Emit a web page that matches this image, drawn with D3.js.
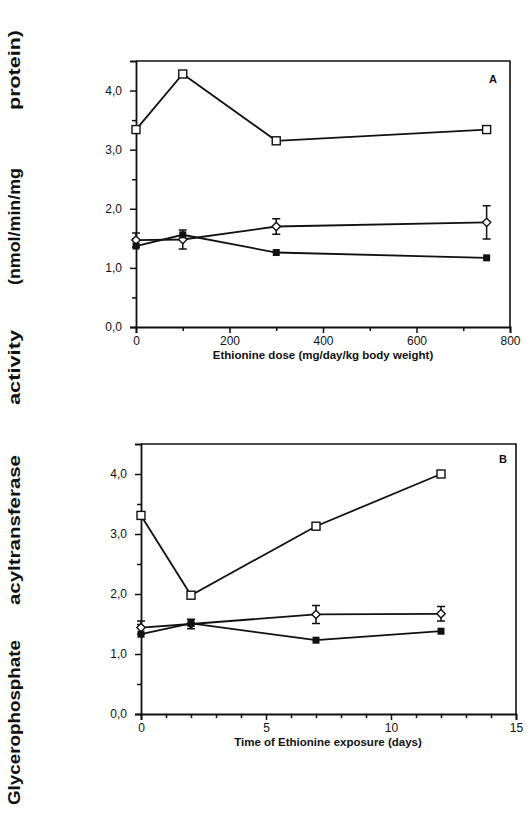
<!DOCTYPE html>
<html>
<head>
<meta charset="utf-8">
<script src="https://cdn.jsdelivr.net/npm/d3@7"></script>
<style>
  html, body { margin: 0; padding: 0; background: #fff; }
  svg { display: block; }
  text { font-family: "Liberation Sans", Arial, Helvetica, sans-serif; fill: #111; }
</style>
</head>
<body>
<svg id="chart" width="527" height="819"></svg>
<script>
// Panel A: ethionine dose (mg/day/kg body weight)
const doseA = [0, 100, 300, 750];
const openSquareA = [3.34, 4.28, 3.15, 3.34];
const filledSquareA = [1.37, 1.56, 1.26, 1.17];
const diamondA = [1.47, 1.48, 1.70, 1.77];
const diamondErrA = [0.12, 0.16, 0.13, 0.28];

// Panel B: time of ethionine exposure (days)
const daysB = [0, 2, 7, 12];
const openSquareB = [3.31, 1.98, 3.13, 4.00];
const filledSquareB = [1.33, 1.51, 1.23, 1.38];
const diamondB = [1.44, 1.50, 1.66, 1.67];
const diamondErrB = [0.11, 0.08, 0.15, 0.12];

const yTicks = [0, 1, 2, 3, 4];
const yMinor = [0.5, 1.5, 2.5, 3.5];
const xTicksA = [0, 200, 400, 600, 800];
const xMinorA = [100, 300, 500, 700];
const xTicksB = [0, 5, 10, 15];
const xMinorB = [1, 2, 3, 4, 6, 7, 8, 9, 11, 12, 13, 14];

const yTitleWords = ["Glycerophosphate", "acyltransferase", "activity", "(nmol/min/mg", "protein)"];

const svg = d3.select("#chart");
const fmtY = d => d3.format(".1f")(d).replace(".", ",");

function panel(opt) {
  const x = d3.scaleLinear().domain(opt.xDomain).range([opt.left, opt.right]);
  const y = d3.scaleLinear().domain([0, 4.5]).range([opt.bottom, opt.top]);
  const g = svg.append("g");

  // frame: top and right edges
  g.append("path")
    .attr("d", `M${opt.left},${opt.top}H${opt.right}V${opt.bottom}`)
    .attr("fill", "none").attr("stroke", "#111").attr("stroke-width", 1.6);

  // y axis
  g.append("g").attr("transform", `translate(${opt.left},0)`)
    .call(d3.axisLeft(y).tickValues(yTicks).tickFormat(fmtY).tickSize(6).tickPadding(8));
  g.append("g").attr("transform", `translate(${opt.left},0)`)
    .call(d3.axisLeft(y).tickValues(yMinor).tickFormat("").tickSize(4))
    .select(".domain").remove();

  // x axis
  g.append("g").attr("transform", `translate(0,${opt.bottom})`)
    .call(d3.axisBottom(x).tickValues(opt.xTicks).tickFormat(d3.format("d")).tickSize(6).tickPadding(3));
  g.append("g").attr("transform", `translate(0,${opt.bottom})`)
    .call(d3.axisBottom(x).tickValues(opt.xMinor).tickFormat("").tickSize(4))
    .select(".domain").remove();

  g.selectAll(".domain").attr("stroke", "#111").attr("stroke-width", 1.8);
  g.selectAll(".tick line").attr("stroke", "#111").attr("stroke-width", 1.5);
  g.selectAll(".tick text").attr("font-size", 12).attr("fill", "#111")
    .style("font-family", "'Liberation Sans', Arial, sans-serif");

  // x axis title
  g.append("text")
    .attr("x", opt.titleX).attr("y", opt.titleY)
    .attr("text-anchor", "middle")
    .attr("font-size", 11.5).attr("font-weight", "bold")
    .text(opt.title);

  // panel letter
  g.append("text")
    .attr("x", opt.letterX).attr("y", opt.letterY)
    .attr("font-size", 11).attr("font-weight", "bold")
    .text(opt.letter);

  const line = d3.line().x(d => x(d[0])).y(d => y(d[1]));
  const series = vals => opt.xs.map((v, i) => [v, vals[i]]);

  [opt.diamond, opt.filled, opt.open].forEach(vals => {
    g.append("path").datum(series(vals))
      .attr("d", line).attr("fill", "none")
      .attr("stroke", "#111").attr("stroke-width", 1.8);
  });

  // error bars on the diamond series
  opt.xs.forEach((v, i) => {
    const cx = x(v), lo = y(opt.diamond[i] - opt.err[i]), hi = y(opt.diamond[i] + opt.err[i]);
    g.append("path")
      .attr("d", `M${cx},${lo}V${hi}M${cx - 4},${lo}H${cx + 4}M${cx - 4},${hi}H${cx + 4}`)
      .attr("stroke", "#111").attr("stroke-width", 1.5).attr("fill", "none");
  });

  // diamonds
  g.selectAll(null).data(series(opt.diamond)).enter().append("path")
    .attr("d", d => { const cx = x(d[0]), cy = y(d[1]), r = 4.2;
      return `M${cx},${cy - r}L${cx + r},${cy}L${cx},${cy + r}L${cx - r},${cy}Z`; })
    .attr("fill", "#fff").attr("stroke", "#111").attr("stroke-width", 1.4);

  // filled squares
  g.selectAll(null).data(series(opt.filled)).enter().append("rect")
    .attr("x", d => x(d[0]) - 3.5).attr("y", d => y(d[1]) - 3.5)
    .attr("width", 7).attr("height", 7).attr("fill", "#111");

  // open squares
  g.selectAll(null).data(series(opt.open)).enter().append("rect")
    .attr("x", d => x(d[0]) - 4).attr("y", d => y(d[1]) - 4)
    .attr("width", 8).attr("height", 8)
    .attr("fill", "#fff").attr("stroke", "#111").attr("stroke-width", 1.4);
}

panel({
  xDomain: [0, 800], left: 136, right: 510, top: 61, bottom: 327,
  xTicks: xTicksA, xMinor: xMinorA, xs: doseA,
  open: openSquareA, filled: filledSquareA, diamond: diamondA, err: diamondErrA,
  title: "Ethionine dose (mg/day/kg body weight)", titleX: 323, titleY: 359,
  letter: "A", letterX: 489, letterY: 83
});

panel({
  xDomain: [0, 15], left: 141, right: 516, top: 444, bottom: 714,
  xTicks: xTicksB, xMinor: xMinorB, xs: daysB,
  open: openSquareB, filled: filledSquareB, diamond: diamondB, err: diamondErrB,
  title: "Time of Ethionine exposure (days)", titleX: 328, titleY: 746,
  letter: "B", letterX: 499, letterY: 463
});

// shared y axis title, one text per word along the left edge
const wordSpans = [[805, 640], [605, 455], [405, 330], [285, 168], [110, 30]];
const yTitle = svg.append("g").attr("transform", "translate(20,0) rotate(-90)");
yTitleWords.forEach((w, i) => {
  const [y0, y1] = wordSpans[i];
  yTitle.append("text")
    .attr("x", -y0).attr("y", 0)
    .attr("font-size", 16.5).attr("font-weight", "bold")
    .attr("textLength", y0 - y1).attr("lengthAdjust", "spacingAndGlyphs")
    .text(w);
});
</script>
</body>
</html>
